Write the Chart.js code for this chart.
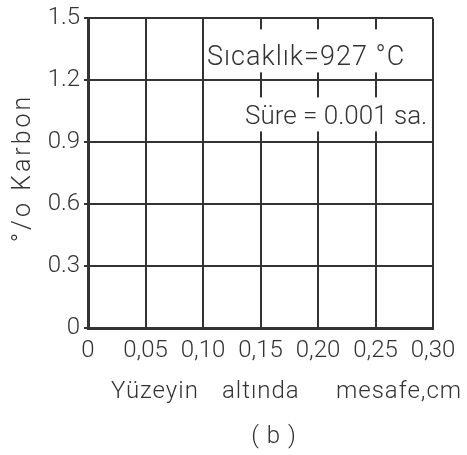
<!DOCTYPE html>
<html>
<head>
<meta charset="utf-8">
<script src="https://cdn.jsdelivr.net/npm/chart.js@4/dist/chart.umd.min.js"></script>
<style>
  html, body { margin: 0; padding: 0; background: #ffffff; }
  #wrap { width: 467px; height: 455px; position: relative; }
</style>
</head>
<body>
<div id="wrap"><canvas id="c" width="467" height="455"></canvas></div>
<script>
// Carbon profile grid: 927 °C, 0.001 h (no measurable penetration yet)
const xTickValues = [0, 0.05, 0.10, 0.15, 0.20, 0.25, 0.30];
const xTickLabels = ['0', '0,05', '0,10', '0,15', '0,20', '0,25', '0,30'];
const yTickValues = [0, 0.3, 0.6, 0.9, 1.2, 1.5];
const yTickLabels = ['0', '0.3', '0.6', '0.9', '1.2', '1.5'];
const profileDistance = [];
const profileCarbon = [];

const xTitle = 'Yüzeyin altında mesafe,cm';
const yTitle = '°/o Karbon';
const panelLabel = '( b )';
const noteTemp = 'Sıcaklık=927 °C';
const noteTime = 'Süre = 0.001 sa.';

const INK = '#333333';
const FONT = "'Roboto', 'DejaVu Sans', sans-serif";

const labelsPlugin = {
  id: 'labels',
  afterDraw(chart) {
    const ctx = chart.ctx;
    const a = chart.chartArea;
    ctx.save();
    ctx.textBaseline = 'alphabetic';

    // notes sitting on white patches inside the grid
    ctx.fillStyle = '#ffffff';
    ctx.fillRect(a.left + 117, a.top + 11, 206, 43);
    ctx.fillRect(a.left + 153, a.top + 79, 188, 34);
    ctx.fillStyle = INK;
    ctx.textAlign = 'left';
    ctx.font = '300 27px ' + FONT;
    ctx.letterSpacing = '1px';
    ctx.fillText(noteTemp, a.left + 119, a.top + 47);
    ctx.letterSpacing = '0px';
    ctx.font = '300 26px ' + FONT;
    ctx.fillText(noteTime, a.left + 157, a.top + 106);

    // x axis title, hand-lettered with uneven word gaps
    ctx.font = '300 24px ' + FONT;
    ctx.letterSpacing = '1px';
    const words = xTitle.split(' ');
    const wordLeft = [111, 222, 336];
    words.forEach((w, i) => ctx.fillText(w, wordLeft[i], 398));
    ctx.textAlign = 'center';
    ctx.fillText(panelLabel, 274, 443);

    // y axis title
    ctx.font = '300 25px ' + FONT;
    ctx.letterSpacing = '3px';
    ctx.translate(30, 168);
    ctx.rotate(-Math.PI / 2);
    ctx.fillText(yTitle, 0, 0);
    ctx.restore();
  }
};

new Chart(document.getElementById('c'), {
  type: 'scatter',
  data: {
    datasets: [{
      data: profileDistance.map((x, i) => ({ x: x, y: profileCarbon[i] })),
      showLine: true,
      borderColor: INK,
      borderWidth: 2,
      pointRadius: 0
    }]
  },
  options: {
    responsive: false,
    animation: false,
    devicePixelRatio: 1,
    layout: { padding: { left: 0, top: 14, right: 34, bottom: 0 } },
    plugins: { legend: { display: false }, tooltip: { enabled: false } },
    scales: {
      x: {
        type: 'linear',
        min: xTickValues[0],
        max: xTickValues[xTickValues.length - 1],
        afterBuildTicks(s) { s.ticks = xTickValues.map(v => ({ value: v })); },
        afterFit(s) { s.height = 127; },
        border: { display: true, color: INK, width: 3 },
        grid: { color: INK, lineWidth: 2, drawTicks: false },
        ticks: {
          padding: 9,
          color: INK,
          font: { family: FONT, size: 24, weight: '300' },
          maxRotation: 0,
          autoSkip: false,
          callback: (v, i) => xTickLabels[i]
        }
      },
      y: {
        type: 'linear',
        min: yTickValues[0],
        max: yTickValues[yTickValues.length - 1],
        afterBuildTicks(s) { s.ticks = yTickValues.map(v => ({ value: v })); },
        afterFit(s) { s.width = 88; },
        border: { display: true, color: INK, width: 3 },
        grid: { color: INK, lineWidth: 2, tickLength: 4 },
        ticks: {
          padding: 4,
          color: INK,
          font: { family: FONT, size: 24, weight: '300' },
          autoSkip: false,
          callback: (v, i) => yTickLabels[i]
        }
      }
    }
  },
  plugins: [labelsPlugin]
});
</script>
</body>
</html>
